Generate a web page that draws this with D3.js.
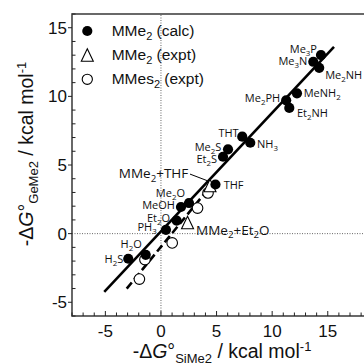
<!DOCTYPE html>
<html><head><meta charset="utf-8">
<script src="https://cdn.jsdelivr.net/npm/d3@7"></script>
<style>body{margin:0;background:#fff;overflow:hidden}</style>
</head><body><svg id="c" width="364" height="364"></svg>
<script>
// ---------- data ----------
const calcNames = ["H2S","H2O","PH3","Et2O","MeOH","Me2O","THF","Et2S","Me2S","THT","NH3","Me2PH","Et2NH","MeNH2","Me2NH","Me3N","Me3P"];
const calcX = [-2.94,-1.37,0.45,1.41,1.80,2.52,4.90,5.58,6.03,7.31,8.03,11.26,11.54,12.23,14.23,13.70,14.39];
const calcY = [-1.83,-1.54,0.28,0.95,1.94,2.23,3.58,5.60,6.14,7.06,6.62,9.71,9.16,10.22,12.08,12.52,13.01];
const exptNames = ["MMe2+THF","MMe2+Et2O"];
const exptX = [4.41,2.39];
const exptY = [3.50,0.81];
const mesX = [-1.94,-1.44,1.01,3.29,4.23];
const mesY = [-3.31,-1.89,-0.68,1.86,2.96];
const fitCalcX = [-5.10,15.56];
const fitCalcY = [-4.25,13.61];
const fitMesX = [-3.08,4.30];
const fitMesY = [-4.01,3.30];
const xTicks = [-5,0,5,10,15];
const yTicks = [-5,0,5,10,15];
const legendLabels = ["MMe2 (calc)","MMe2 (expt)","MMes2 (expt)"];

// ---------- layout (label offsets in px: dx, dy, anchor, font size) ----------
const labelLayout = {
  "H2S":[-5,4.6,"end",11],"H2O":[-4,-6.4,"end",11],"PH3":[-9.3,1.7,"end",11],"Et2O":[-6.6,1.2,"end",11],
  "MeOH":[-6,2.3,"end",11],"Me2O":[-4,-6.3,"end",11],"THF":[8.2,4.8,"start",11],"Et2S":[-6,6.6,"end",11],
  "Me2S":[-6.7,1.4,"end",11],"THT":[-3.6,0,"end",11],"NH3":[6.8,5,"start",11],"Me2PH":[-6,1.4,"end",11],
  "Et2NH":[7.7,9,"start",11],"MeNH2":[6.7,3.4,"start",11],"Me2NH":[6,11.6,"start",11],"Me3N":[-6,3.3,"end",11],
  "Me3P":[-4,-2.5,"end",11],"MMe2+THF":[-21.7,-7.5,"end",13.5],"MMe2+Et2O":[8.5,12.2,"start",13.5]
};

const svg = d3.select("#c");
const x = d3.scaleLinear().domain([-8,20]).range([72, 72+28*11.12]);
const y = d3.scaleLinear().domain([-6,16]).range([316, 14]);

// subscript helper: digits become subscripts
function chem(sel, str, fs, sub){
  const parts = str.match(/\d+|\D+/g);
  let low=false;
  parts.forEach(p=>{
    const isNum=/\d/.test(p);
    const t = sel.append("tspan").text(p);
    if(isNum){ t.attr("font-size",sub).attr("dy", low?0:fs*0.27); low=true; }
    else { t.attr("font-size",fs); if(low){ t.attr("dy",-fs*0.27); low=false; } }
  });
}

// reference dotted lines
svg.append("line").attr("x1",x(-8)).attr("x2",x(20)).attr("y1",y(0)).attr("y2",y(0))
  .attr("stroke","#666").attr("stroke-width",1).attr("stroke-dasharray","1,1.5");
svg.append("line").attr("x1",x(0)).attr("x2",x(0)).attr("y1",y(-6)).attr("y2",y(16))
  .attr("stroke","#666").attr("stroke-width",1).attr("stroke-dasharray","1,1.5");

// frame
svg.append("rect").attr("x",x(-8)).attr("y",y(16)).attr("width",x(20)-x(-8)).attr("height",y(-6)-y(16))
  .attr("fill","none").attr("stroke","#444").attr("stroke-width",1.6);

// ticks
const minorX = d3.range(-8,21,1), minorY = d3.range(-6,17,1);
const g = svg.append("g").attr("stroke","#222").attr("stroke-width",1);
minorX.forEach(v=>{
  const major = v%5===0;
  g.append("line").attr("x1",x(v)).attr("x2",x(v)).attr("y1",y(-6)).attr("y2",y(-6)-(major?5:3.5));
});
minorY.forEach(v=>{
  const major = yTicks.includes(v);
  if(major) g.append("line").attr("x1",x(-8)-4).attr("x2",x(-8)).attr("y1",y(v)).attr("y2",y(v));
  else g.append("line").attr("x1",x(-8)).attr("x2",x(-8)+3.5).attr("y1",y(v)).attr("y2",y(v));
});
const tickFont = "'Liberation Sans', Arial, sans-serif";
svg.append("g").selectAll("text").data(xTicks).join("text")
  .attr("x",d=>x(d)).attr("y",337).attr("text-anchor","middle")
  .attr("font-family",tickFont).attr("font-size",17).attr("fill","#111")
  .text(d=>d<0?"-"+Math.abs(d):d);
svg.append("g").selectAll("text").data(yTicks).join("text")
  .attr("x",67).attr("y",d=>y(d)+6).attr("text-anchor","end")
  .attr("font-family",tickFont).attr("font-size",17).attr("fill","#111")
  .text(d=>d<0?"-"+Math.abs(d):d);

// axis titles
function title(sel, sub){
  sel.append("tspan").text("-Δ");
  sel.append("tspan").attr("font-style","italic").text("G");
  sel.append("tspan").text("°");
  sel.append("tspan").attr("font-size",13).attr("dy",5).text(sub);
  sel.append("tspan").attr("dy",-5).text(" / kcal mol");
  sel.append("tspan").attr("font-size",13).attr("dy",-7).text("-1");
}
const xt = svg.append("text").attr("x",222).attr("y",358).attr("text-anchor","middle")
  .attr("font-family",tickFont).attr("font-size",19.5).attr("fill","#111");
title(xt,"SiMe2");
const yt = svg.append("text").attr("transform","translate(33,154) rotate(-90)").attr("text-anchor","middle")
  .attr("font-family",tickFont).attr("font-size",19.5).attr("fill","#111");
title(yt,"GeMe2");

// fit lines
const line = d3.line().x(d=>x(d[0])).y(d=>y(d[1]));
svg.append("path").attr("d",line(d3.zip(fitMesX,fitMesY))).attr("stroke","#000").attr("stroke-width",2.6)
  .attr("stroke-dasharray","8,4").attr("fill","none");
svg.append("path").attr("d",line(d3.zip(fitCalcX,fitCalcY))).attr("stroke","#000").attr("stroke-width",2.6).attr("fill","none");

// triangle path (bbox-centered)
const triPath = "M0,-6.3L6,6.2L-6,6.2Z";

// open circles (MMes2 expt)
svg.append("g").selectAll("circle").data(d3.zip(mesX,mesY)).join("circle")
  .attr("cx",d=>x(d[0])).attr("cy",d=>y(d[1])).attr("r",5.3)
  .attr("fill","#fff").attr("stroke","#000").attr("stroke-width",1.1);

// open triangles (MMe2 expt)
svg.append("g").selectAll("path").data(d3.zip(exptX,exptY)).join("path")
  .attr("transform",d=>`translate(${x(d[0])},${y(d[1])})`).attr("d",triPath)
  .attr("fill","#fff").attr("stroke","#000").attr("stroke-width",1.1);

// filled circles (calc)
svg.append("g").selectAll("circle").data(d3.zip(calcX,calcY)).join("circle")
  .attr("cx",d=>x(d[0])).attr("cy",d=>y(d[1])).attr("r",5.1).attr("fill","#000");

// labels
const labFont = "'Open Sans', 'Noto Sans', sans-serif";
function addLabel(name, px, py){
  const L = labelLayout[name];
  const t = svg.append("text").attr("x",px+L[0]).attr("y",py+L[1]).attr("text-anchor",L[2])
    .attr("font-family",labFont).attr("fill","#111");
  chem(t, name, L[3], L[3]*0.72);
}
calcNames.forEach((n,i)=>addLabel(n, x(calcX[i]), y(calcY[i])));
exptNames.forEach((n,i)=>addLabel(n, x(exptX[i]), y(exptY[i])));
// leader for MMe2+THF
svg.append("line").attr("x1",x(exptX[0])-20).attr("y1",y(exptY[0])-11.5)
  .attr("x2",x(exptX[0])-3).attr("y2",y(exptY[0])-5).attr("stroke","#000").attr("stroke-width",1);

// legend
const lg = svg.append("g");
const ly = [31,55,79.3];
lg.append("circle").attr("cx",87.3).attr("cy",ly[0]).attr("r",5.1).attr("fill","#000");
lg.append("path").attr("transform",`translate(87.3,${ly[1]})`).attr("d",triPath)
  .attr("fill","#fff").attr("stroke","#000").attr("stroke-width",1.1);
lg.append("circle").attr("cx",87.3).attr("cy",ly[2]).attr("r",5.1)
  .attr("fill","#fff").attr("stroke","#000").attr("stroke-width",1.1);
legendLabels.forEach((s,i)=>{
  const t = lg.append("text").attr("x",111.7).attr("y",ly[i]+5)
    .attr("font-family",tickFont).attr("fill","#111");
  const m = s.match(/^(\D+)(\d)(.*)$/);
  t.append("tspan").attr("font-size",15.5).text(m[1]);
  t.append("tspan").attr("font-size",11).attr("dy",4).text(m[2]);
  t.append("tspan").attr("font-size",15.5).attr("dy",-4).text(m[3]);
});
</script>
</body></html>
